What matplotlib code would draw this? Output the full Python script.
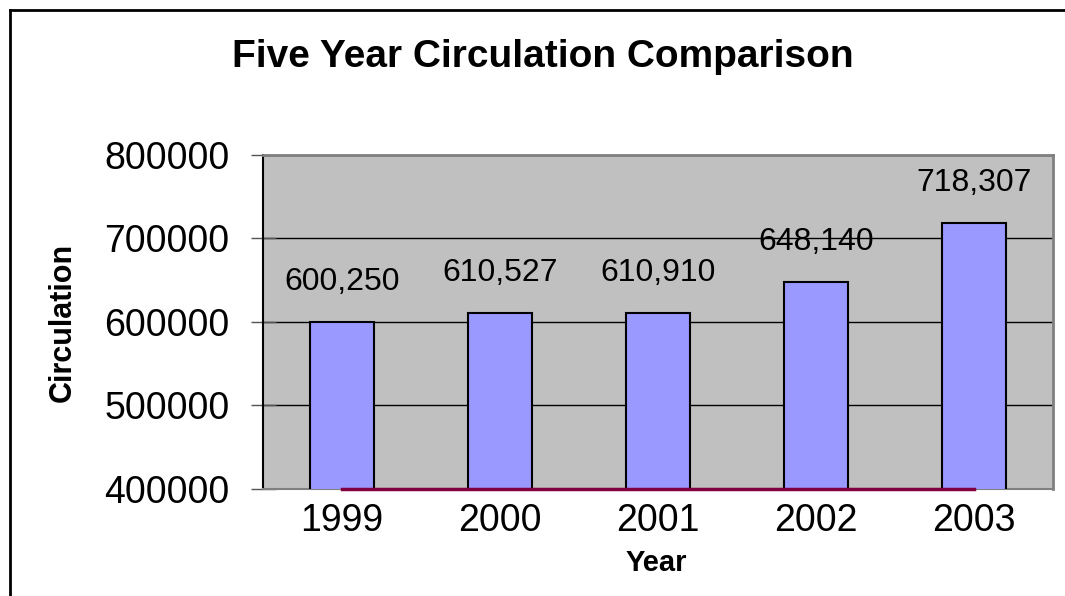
import matplotlib.pyplot as plt
from matplotlib.lines import Line2D
from matplotlib.ticker import FuncFormatter

years = ['1999', '2000', '2001', '2002', '2003']
circulation = [600250, 610527, 610910, 648140, 718307]
yticks = [400000, 500000, 600000, 700000, 800000]

plt.rcParams['font.family'] = ['Liberation Sans', 'DejaVu Sans']

fig = plt.figure(figsize=(10.65, 5.96), dpi=100)
W, H = 1065, 596
ax = fig.add_axes([263 / W, (H - 489) / H, 790 / W, (489 - 155) / H])
ax.set_facecolor('#C0C0C0')

x = list(range(len(years)))
ax.bar(x, circulation, width=0.4, color='#9999FF', edgecolor='black',
       linewidth=1.5, bottom=0, zorder=3)
ax.set_xlim(-0.5, len(years) - 0.5)
ax.set_ylim(400000, 800000)
ax.set_yticks(yticks)
ax.yaxis.set_major_formatter(FuncFormatter(lambda v, p: '%d' % v))
ax.set_xticks(x)
ax.set_xticklabels(years)
ax.grid(axis='y', color='black', linewidth=1, zorder=1)
ax.tick_params(axis='y', direction='inout', length=18, width=1, color='#555555',
               labelsize=27, pad=15)
ax.tick_params(axis='x', length=0, labelsize=27, pad=10)

for s in ['top', 'right']:
    ax.spines[s].set_color('#808080')
    ax.spines[s].set_linewidth(2)
ax.spines['left'].set_color('black')
ax.spines['left'].set_linewidth(1.5)
ax.spines['bottom'].set_color('#808080')
ax.spines['bottom'].set_linewidth(1.5)

# maroon line along the bottom
ax.plot([x[0], x[-1]], [400000, 400000], color='#800040', linewidth=2.5,
        clip_on=False, zorder=4)

for xi, v in zip(x, circulation):
    ax.annotate('{:,}'.format(v), (xi, v), xytext=(0, 29), textcoords='offset points',
                ha='center', va='center', fontsize=23, zorder=5)

ax.set_xlabel('Year', fontsize=21, fontweight='bold', va='center')
ax.xaxis.set_label_coords(0.4975, -0.222)
ax.set_ylabel('Circulation', fontsize=22, fontweight='bold', va='center')
ax.yaxis.set_label_coords(-0.254, 0.5)

fig.text(543 / W, 1 - 57 / H, 'Five Year Circulation Comparison', fontsize=28,
         fontweight='bold', ha='center', va='center')

# outer frame lines
fig.add_artist(Line2D([10 / W, 10 / W], [0, 1 - 10 / H], color='black', linewidth=2,
                      transform=fig.transFigure))
fig.add_artist(Line2D([10 / W, 1], [1 - 10 / H, 1 - 10 / H], color='black', linewidth=2,
                      transform=fig.transFigure))

fig.savefig('out.png', dpi=100)
